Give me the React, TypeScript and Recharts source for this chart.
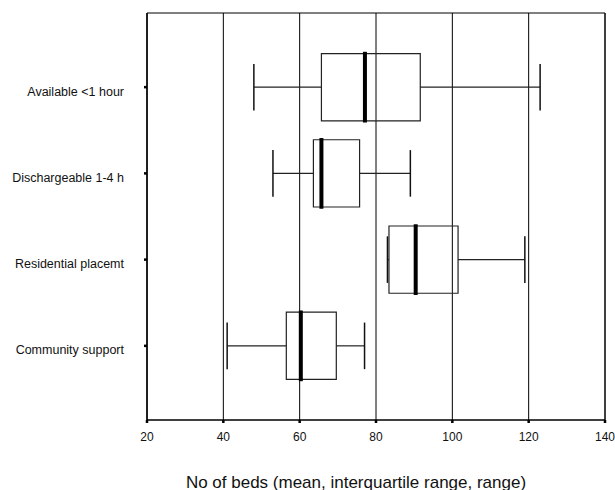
import { CartesianGrid, ComposedChart, ReferenceArea, ReferenceLine, Scatter, XAxis, YAxis } from 'recharts';

// Categorias e valores
const categories = ['Available <1 hour', 'Dischargeable 1-4 h', 'Residential placemt', 'Community support'];
const minVals = [48, 53, 83, 41];
const q1Vals = [65.7, 63.6, 83.4, 56.5];
const medVals = [77.1, 65.7, 90.4, 60.3];
const q3Vals = [91.6, 75.7, 101.5, 69.6];
const maxVals = [123, 89, 119, 77];
const xTicks = [20, 40, 60, 80, 100, 120, 140];

const FONT = "'Liberation Sans', Arial, sans-serif";
const BOX_HALF = 0.39;
const CAP_HALF = 0.27;
const Y_DOMAIN: [number, number] = [0.14, 4.86];

// layout vertical: eixo Y numérico cresce de cima para baixo
const data = categories.map((name, i) => ({
    name,
    pos: i + 1,
    min: minVals[i],
    q1: q1Vals[i],
    med: medVals[i],
    q3: q3Vals[i],
    max: maxVals[i],
}));

const App = () => {
    return (
        <div style={{ position: 'absolute', left: 0, top: 0, width: 615, height: 490, overflow: 'hidden' }}>
            <ComposedChart
                width={615}
                height={490}
                data={data}
                layout="vertical"
                margin={{ top: 13, right: 10, bottom: 4, left: 0 }}
                style={{ fontFamily: FONT }}
            >
                <CartesianGrid horizontal={false} stroke="#000" strokeOpacity={1} />
                <XAxis
                    type="number"
                    dataKey="med"
                    domain={[20, 140]}
                    ticks={xTicks}
                    interval={0}
                    height={66}
                    stroke="#000"
                    tickSize={3}
                    tickMargin={9}
                    tickLine={{ stroke: '#000', strokeWidth: 2.5 }}
                    tick={{ fill: '#111', fontSize: 12, fontFamily: FONT }}
                    label={{
                        value: 'No of beds (mean, interquartile range, range)',
                        position: 'insideBottom',
                        offset: -1.5,
                        dx: -20,
                        fill: '#111',
                        fontSize: 17,
                        fontFamily: FONT,
                    }}
                />
                <YAxis
                    type="number"
                    dataKey="pos"
                    domain={Y_DOMAIN}
                    ticks={data.map((d) => d.pos)}
                    interval={0}
                    width={147}
                    stroke="#000"
                    tickSize={3}
                    tickMargin={20}
                    tickLine={{ stroke: '#000', strokeWidth: 2.5 }}
                    tickFormatter={(v: number) => categories[v - 1]}
                    tick={{ fill: '#111', fontSize: 12.5, fontFamily: FONT, dy: 4 }}
                />
                {/* moldura */}
                <ReferenceArea x1={20} x2={140} y1={Y_DOMAIN[0]} y2={Y_DOMAIN[1]} fill="none" fillOpacity={0} stroke="#000" strokeWidth={1} />
                {data.map((d) => [
                    <ReferenceArea key={`box-${d.pos}`} x1={d.q1} x2={d.q3} y1={d.pos - BOX_HALF} y2={d.pos + BOX_HALF} fill="none" fillOpacity={0} stroke="#222" strokeWidth={1.2} />,
                    <ReferenceLine key={`wl-${d.pos}`} segment={[{ x: d.min, y: d.pos }, { x: d.q1, y: d.pos }]} stroke="#222" strokeWidth={1.2} />,
                    <ReferenceLine key={`wh-${d.pos}`} segment={[{ x: d.q3, y: d.pos }, { x: d.max, y: d.pos }]} stroke="#222" strokeWidth={1.2} />,
                    <ReferenceLine key={`cl-${d.pos}`} segment={[{ x: d.min, y: d.pos - CAP_HALF }, { x: d.min, y: d.pos + CAP_HALF }]} stroke="#111" strokeWidth={1.5} />,
                    <ReferenceLine key={`ch-${d.pos}`} segment={[{ x: d.max, y: d.pos - CAP_HALF }, { x: d.max, y: d.pos + CAP_HALF }]} stroke="#111" strokeWidth={1.5} />,
                    <ReferenceLine key={`md-${d.pos}`} segment={[{ x: d.med, y: d.pos - BOX_HALF - 0.02 }, { x: d.med, y: d.pos + BOX_HALF + 0.02 }]} stroke="#000" strokeWidth={4} />,
                ])}
                <Scatter dataKey="med" fill="none" shape={() => <g />} isAnimationActive={false} />
            </ComposedChart>
        </div>
    );
};

export default App;
